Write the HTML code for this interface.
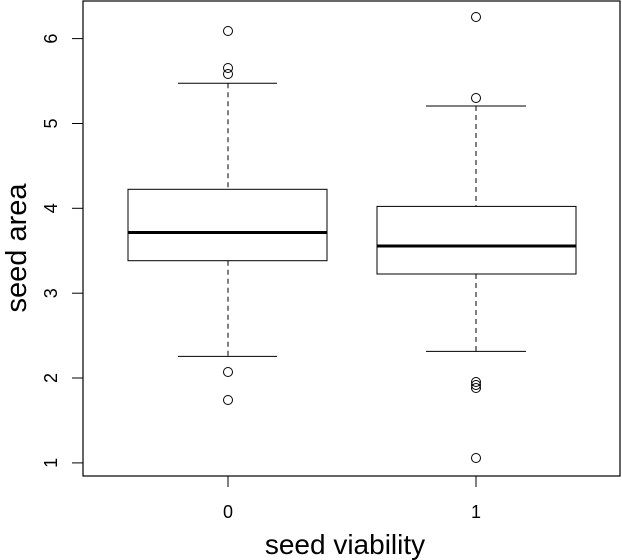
<!DOCTYPE html>
<html><head><meta charset="utf-8"><style>body{margin:0;background:#fff}svg{display:block}</style></head><body>
<svg width="622" height="560" xmlns="http://www.w3.org/2000/svg" font-family="Liberation Sans, sans-serif" fill="none" stroke="#000">
<rect x="83" y="1" width="537" height="475" stroke-width="1.2"/>
<g stroke-width="1">
<line x1="72" x2="83" y1="38.6" y2="38.6"/><line x1="72" x2="83" y1="123.5" y2="123.5"/><line x1="72" x2="83" y1="208.3" y2="208.3"/><line x1="72" x2="83" y1="293.2" y2="293.2"/><line x1="72" x2="83" y1="378" y2="378"/><line x1="72" x2="83" y1="462.9" y2="462.9"/>
<line x1="228" x2="228" y1="476" y2="487"/><line x1="476" x2="476" y1="476" y2="487"/>
</g>
<g fill="#000" stroke="none" font-size="18" text-anchor="middle">
<text transform="translate(57,38.6) rotate(-90)">6</text>
<text transform="translate(57,123.5) rotate(-90)">5</text>
<text transform="translate(57,208.3) rotate(-90)">4</text>
<text transform="translate(57,293.2) rotate(-90)">3</text>
<text transform="translate(57,378) rotate(-90)">2</text>
<text transform="translate(57,462.9) rotate(-90)">1</text>
<text x="228" y="518">0</text><text x="476" y="518">1</text>
<text x="345" y="554" font-size="28">seed viability</text>
<text transform="translate(26,248) rotate(-90)" font-size="29">seed area</text>
</g>
<g stroke-width="1">
<line x1="228" x2="228" y1="83.2" y2="189.3" stroke-dasharray="5,4"/>
<line x1="228" x2="228" y1="260.7" y2="356.4" stroke-dasharray="5,4"/>
<line x1="178" x2="277" y1="83.2" y2="83.2"/><line x1="178" x2="277" y1="356.4" y2="356.4"/>
<rect x="128" y="189.3" width="199" height="71.4" fill="#fff"/>
<line x1="128" x2="327" y1="232.5" y2="232.5" stroke-width="3"/>
<circle cx="228" cy="31" r="4.5"/><circle cx="228" cy="68" r="4.5"/><circle cx="228" cy="74" r="4.5"/><circle cx="228" cy="372" r="4.5"/><circle cx="228" cy="400" r="4.5"/>
<line x1="476" x2="476" y1="106" y2="206.4" stroke-dasharray="5,4"/>
<line x1="476" x2="476" y1="274" y2="351.4" stroke-dasharray="5,4"/>
<line x1="426" x2="526" y1="106" y2="106"/><line x1="426" x2="526" y1="351.4" y2="351.4"/>
<rect x="377" y="206.4" width="199" height="67.6" fill="#fff"/>
<line x1="377" x2="576" y1="246" y2="246" stroke-width="3"/>
<circle cx="476" cy="17" r="4.5"/><circle cx="476" cy="98" r="4.5"/><circle cx="476" cy="382" r="4.5"/><circle cx="476" cy="385" r="4.5"/><circle cx="476" cy="388" r="4.5"/><circle cx="476" cy="458" r="4.5"/>
</g>
</svg>
</body></html>
